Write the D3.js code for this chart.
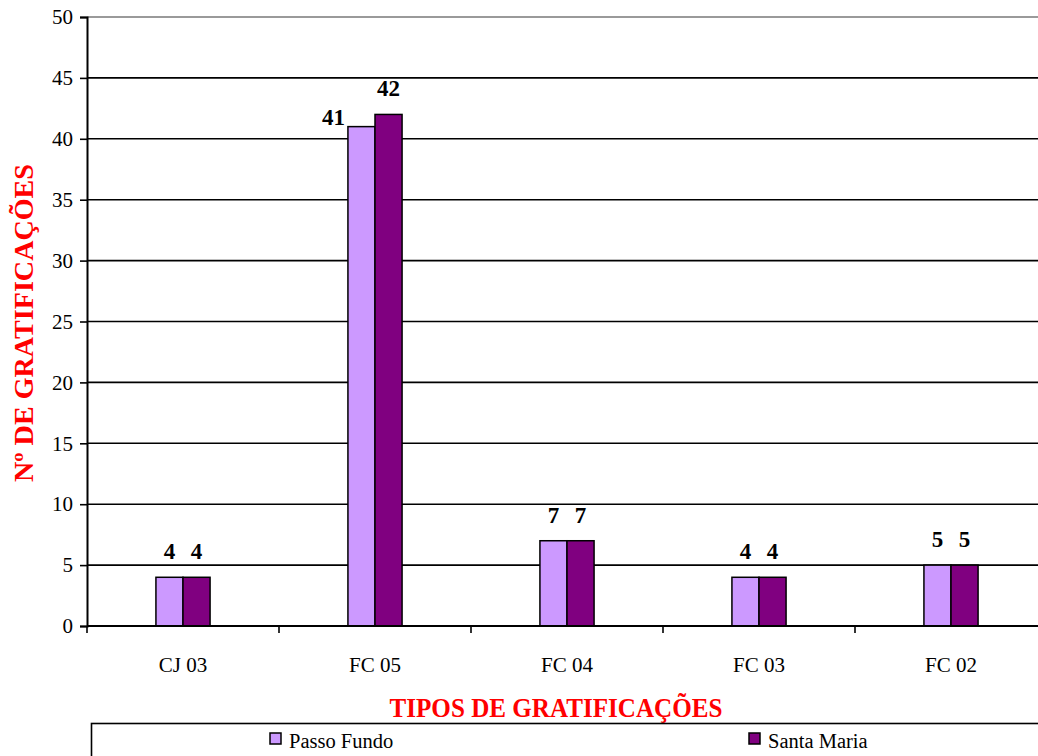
<!DOCTYPE html>
<html>
<head>
<meta charset="utf-8">
<script src="https://cdn.jsdelivr.net/npm/d3@7"></script>
<style>
  html, body { margin: 0; padding: 0; background: #fff; }
</style>
</head>
<body>
<svg id="chart" width="1038" height="756"></svg>
<script>
// Gratification types and counts per campus
const categories = ["CJ 03", "FC 05", "FC 04", "FC 03", "FC 02"];
const seriesNames = ["Passo Fundo", "Santa Maria"];
const passoFundo = [4, 41, 7, 4, 5];
const santaMaria = [4, 42, 7, 4, 5];
const yTicks = [0, 5, 10, 15, 20, 25, 30, 35, 40, 45, 50];
const seriesColors = ["#CC99FF", "#800080"];

const seriesValues = [passoFundo, santaMaria];
const FONT = "'Liberation Serif', 'Times New Roman', serif";

const svg = d3.select("#chart");
const plot = { left: 87, right: 1047, top: 17, bottom: 626 };

const x = d3.scaleBand().domain(categories).range([plot.left, plot.right]).padding(0);
const bw = x.bandwidth();
const x1 = d3.scaleBand().domain(seriesNames).range([bw * 0.359, bw * 0.641]).padding(0);
const y = d3.scaleLinear().domain([0, 50]).range([plot.bottom, plot.top]);

// Horizontal gridlines
svg.append("g")
  .selectAll("line")
  .data(yTicks.filter(d => d > 0))
  .join("line")
  .attr("x1", plot.left)
  .attr("x2", plot.right)
  .attr("y1", d => y(d))
  .attr("y2", d => y(d))
  .attr("stroke", d => d === 50 ? "#9a9a9a" : "#000")
  .attr("stroke-width", d => d === 50 ? 2 : 1.6);

// Y axis
const yAxis = svg.append("g")
  .attr("transform", `translate(${plot.left},0)`)
  .call(d3.axisLeft(y).tickValues(yTicks).tickSize(7).tickPadding(7).tickFormat(d3.format("d")));
yAxis.select(".domain").attr("stroke", "#000").attr("stroke-width", 2);
yAxis.selectAll(".tick line").attr("stroke", "#000").attr("stroke-width", 1.6);
yAxis.selectAll(".tick text")
  .style("font-family", FONT)
  .style("font-size", "21px")
  .attr("fill", "#000");

// Bars
const groups = svg.append("g")
  .selectAll("g")
  .data(categories.map((c, i) => ({ cat: c, vals: seriesNames.map((s, j) => ({ s, j, v: seriesValues[j][i] })) })))
  .join("g")
  .attr("transform", d => `translate(${x(d.cat)},0)`);

groups.selectAll("rect")
  .data(d => d.vals)
  .join("rect")
  .attr("x", d => x1(d.s))
  .attr("width", x1.bandwidth())
  .attr("y", d => y(d.v))
  .attr("height", d => y(0) - y(d.v))
  .attr("fill", d => seriesColors[d.j])
  .attr("stroke", "#000")
  .attr("stroke-width", 1.5);

// X axis baseline and ticks at category boundaries
const xAxis = svg.append("g")
  .attr("transform", `translate(0,${plot.bottom})`);
xAxis.append("line")
  .attr("x1", plot.left).attr("x2", plot.right)
  .attr("stroke", "#000").attr("stroke-width", 2);
xAxis.selectAll("line.tk")
  .data(d3.range(0, categories.length + 1))
  .join("line")
  .attr("class", "tk")
  .attr("x1", i => plot.left + bw * i)
  .attr("x2", i => plot.left + bw * i)
  .attr("y1", 0).attr("y2", 7)
  .attr("stroke", "#000").attr("stroke-width", 1.6);
xAxis.selectAll("text")
  .data(categories)
  .join("text")
  .attr("x", d => x(d) + bw / 2)
  .attr("y", 46)
  .attr("text-anchor", "middle")
  .style("font-family", FONT)
  .style("font-size", "21px")
  .attr("fill", "#000")
  .text(d => d);

// Value labels; a label whose taller neighbour would crowd it sits to the bar's left
groups.selectAll("text.val")
  .data(d => d.vals.map(v => Object.assign({}, v, { other: d.vals[1 - v.j].v })))
  .join("text")
  .attr("class", "val")
  .style("font-family", FONT)
  .style("font-size", "23px")
  .style("font-weight", "bold")
  .attr("fill", "#000")
  .each(function (d) {
    const crowded = d.j === 0 && d.other > d.v;
    const t = d3.select(this);
    if (crowded) {
      t.attr("x", x1(d.s) - 3).attr("y", y(d.v) - 2).attr("text-anchor", "end");
    } else {
      t.attr("x", x1(d.s) + x1.bandwidth() / 2).attr("y", y(d.v) - 18).attr("text-anchor", "middle");
    }
  })
  .text(d => d.v);

// Axis titles
svg.append("text")
  .attr("x", 556)
  .attr("y", 717)
  .attr("text-anchor", "middle")
  .style("font-family", FONT)
  .style("font-size", "27px")
  .style("font-weight", "bold")
  .attr("fill", "#FF0000")
  .attr("textLength", 333)
  .attr("lengthAdjust", "spacingAndGlyphs")
  .text("TIPOS DE GRATIFICAÇÕES");

svg.append("text")
  .attr("transform", "translate(33,323) rotate(-90)")
  .attr("text-anchor", "middle")
  .style("font-family", FONT)
  .style("font-size", "27px")
  .style("font-weight", "bold")
  .attr("fill", "#FF0000")
  .attr("textLength", 318)
  .attr("lengthAdjust", "spacingAndGlyphs")
  .text("Nº DE GRATIFICAÇÕES");

// Legend
const legend = svg.append("g");
legend.append("rect")
  .attr("x", 91.5).attr("y", 723.5)
  .attr("width", 1000).attr("height", 100)
  .attr("fill", "#fff")
  .attr("stroke", "#000").attr("stroke-width", 1.6);
const legendX = [270, 749];
const items = legend.selectAll("g.item")
  .data(seriesNames)
  .join("g")
  .attr("class", "item")
  .attr("transform", (d, i) => `translate(${legendX[i]},733)`);
items.append("rect")
  .attr("width", 11).attr("height", 11)
  .attr("fill", (d, i) => seriesColors[i])
  .attr("stroke", "#000").attr("stroke-width", 1.5);
items.append("text")
  .attr("x", 19).attr("y", 15)
  .style("font-family", FONT)
  .style("font-size", "20.5px")
  .attr("fill", "#000")
  .text(d => d);
</script>
</body>
</html>
